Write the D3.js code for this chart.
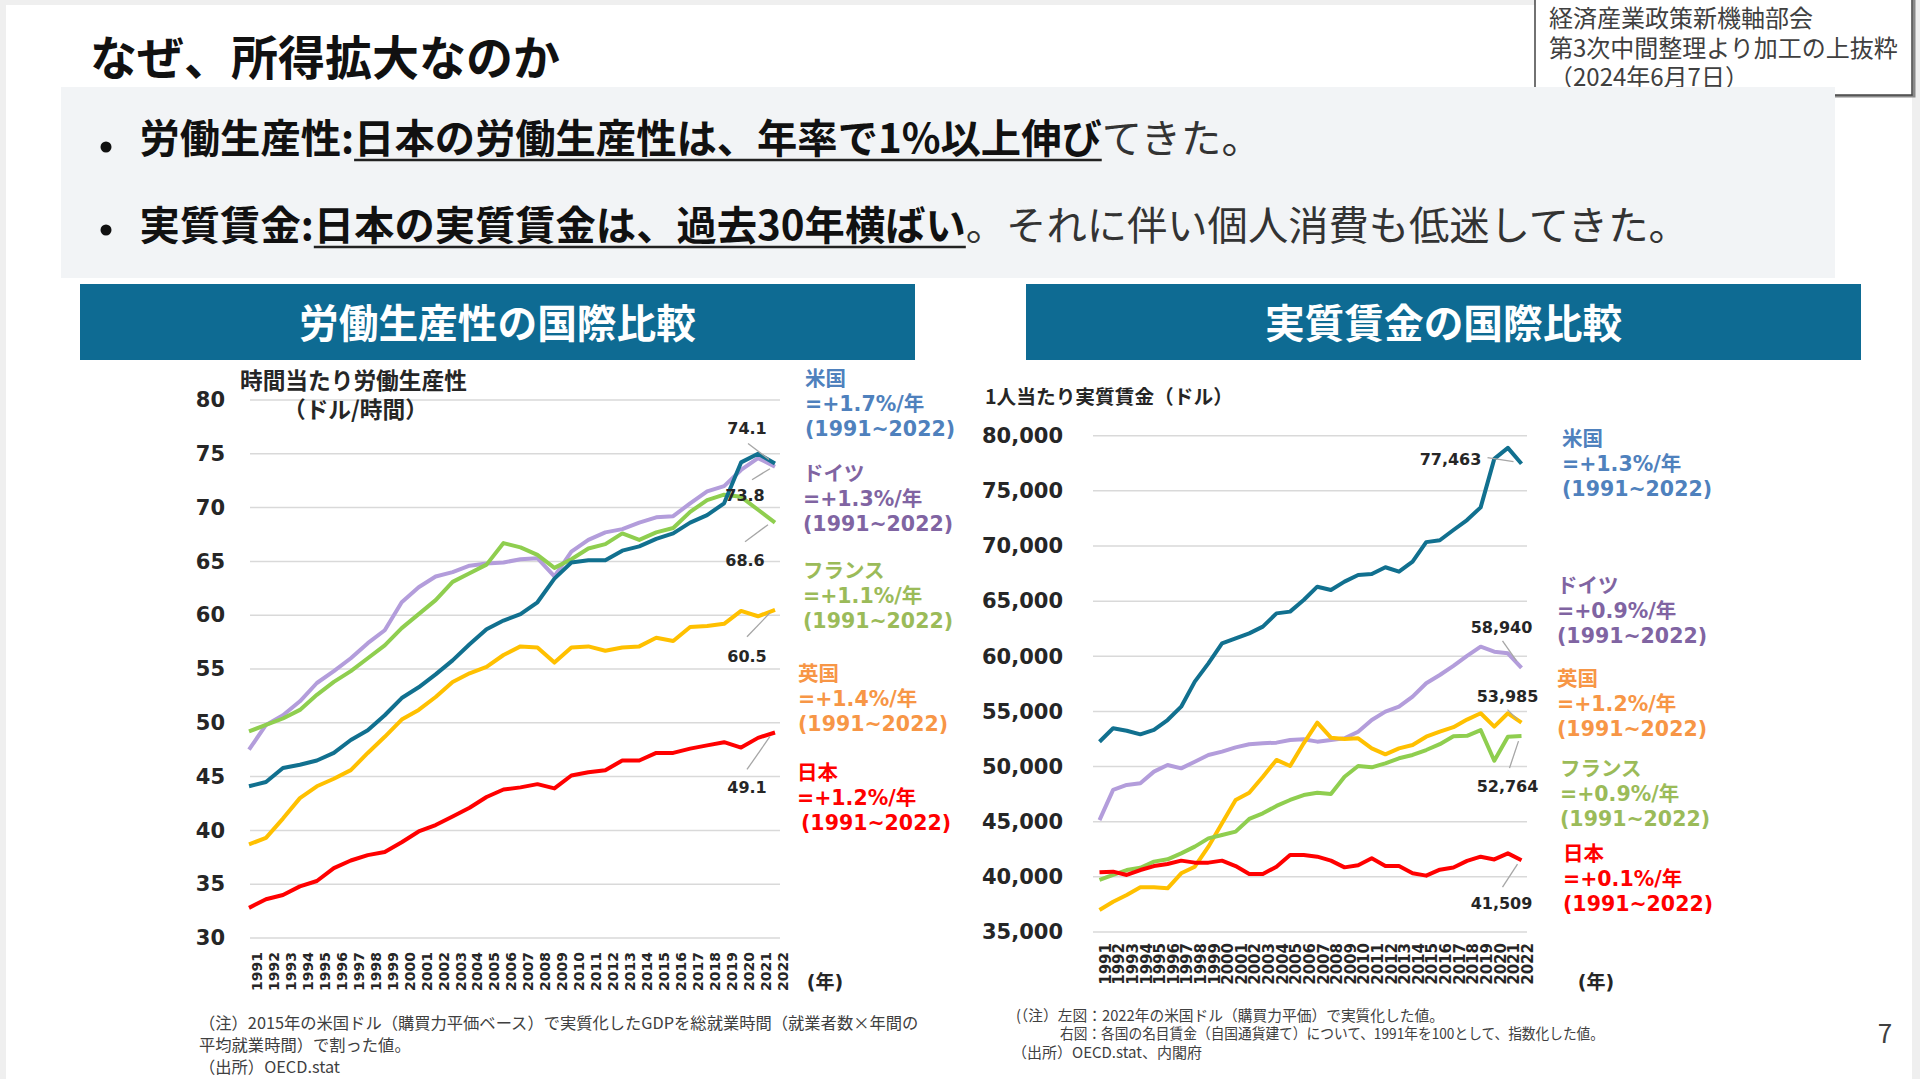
<!DOCTYPE html>
<html>
<head>
<meta charset="utf-8">
<script src="https://cdnjs.cloudflare.com/ajax/libs/d3/7.8.5/d3.min.js"></script>
<style>
  body { margin: 0; background: #efefef; overflow: hidden; }
</style>
</head>
<body>
<script>

var years = [1991, 1992, 1993, 1994, 1995, 1996, 1997, 1998, 1999, 2000, 2001, 2002, 2003, 2004, 2005, 2006,
             2007, 2008, 2009, 2010, 2011, 2012, 2013, 2014, 2015, 2016, 2017, 2018, 2019, 2020, 2021, 2022]

// 時間当たり労働生産性 (ドル/時間)
var prodUSA     = [44.1, 44.5, 45.8, 46.1, 46.5, 47.2, 48.4, 49.3, 50.7, 52.3, 53.3, 54.5, 55.8, 57.3, 58.7, 59.5,
                   60.1, 61.2, 63.4, 64.9, 65.1, 65.1, 66.0, 66.4, 67.1, 67.6, 68.6, 69.3, 70.4, 74.2, 75.0, 74.1]
var prodGermany = [47.5, 49.8, 50.7, 52.0, 53.7, 54.8, 56.0, 57.4, 58.6, 61.2, 62.6, 63.6, 64.0, 64.6, 64.8, 64.9,
                   65.2, 65.3, 63.6, 65.9, 67.0, 67.7, 68.0, 68.6, 69.1, 69.2, 70.4, 71.5, 72.0, 73.5, 74.6, 73.8]
var prodFrance  = [49.2, 49.8, 50.4, 51.2, 52.6, 53.8, 54.8, 56.0, 57.2, 58.8, 60.1, 61.4, 63.1, 63.9, 64.7, 66.7,
                   66.3, 65.6, 64.4, 65.2, 66.2, 66.6, 67.6, 67.0, 67.7, 68.1, 69.6, 70.7, 71.2, 71.0, 69.8, 68.6]
var prodUK      = [38.7, 39.3, 41.1, 43.0, 44.1, 44.8, 45.6, 47.2, 48.7, 50.3, 51.2, 52.4, 53.8, 54.6, 55.2, 56.3,
                   57.1, 57.0, 55.6, 57.0, 57.1, 56.7, 57.0, 57.1, 57.9, 57.6, 58.9, 59.0, 59.2, 60.4, 59.9, 60.5]
var prodJapan   = [32.8, 33.6, 34.0, 34.8, 35.3, 36.5, 37.2, 37.7, 38.0, 38.9, 39.9, 40.5, 41.3, 42.1, 43.1, 43.8,
                   44.0, 44.3, 43.9, 45.1, 45.4, 45.6, 46.5, 46.5, 47.2, 47.2, 47.6, 47.9, 48.2, 47.7, 48.6, 49.1]

// 1人当たり実質賃金 (ドル)
var wageUSA     = [52250, 53470, 53250, 52920, 53320, 54220, 55430, 57700, 59360, 61170, 61630, 62080, 62690, 63890, 64050, 65100,
                   66310, 66010, 66770, 67370, 67460, 68070, 67670, 68580, 70350, 70520, 71450, 72350, 73500, 77900, 78900, 77463]
var wageGermany = [45150, 47880, 48330, 48480, 49540, 50140, 49840, 50440, 51050, 51350, 51740, 52020, 52110, 52170, 52410, 52470,
                   52260, 52410, 52560, 53160, 54220, 54980, 55430, 56340, 57550, 58300, 59130, 60040, 60870, 60420, 60270, 58940]
var wageUK      = [37000, 37750, 38360, 39050, 39050, 38960, 40320, 40920, 42740, 44850, 46970, 47630, 49080, 50600, 50050, 52110,
                   53980, 52620, 52500, 52560, 51650, 51110, 51650, 51960, 52710, 53160, 53570, 54260, 54830, 53620, 54830, 53985]
var wageFrance  = [39720, 40170, 40620, 40830, 41380, 41590, 42130, 42740, 43490, 43800, 44100, 45250, 45760, 46430, 46970, 47420,
                   47630, 47510, 49080, 50050, 49930, 50290, 50750, 51050, 51500, 52030, 52740, 52790, 53310, 50530, 52710, 52764]
var wageJapan   = [40410, 40470, 40170, 40620, 40980, 41170, 41470, 41290, 41290, 41470, 40980, 40260, 40260, 40920, 41980, 41980,
                   41830, 41470, 40860, 41050, 41680, 40980, 40980, 40320, 40110, 40650, 40850, 41450, 41830, 41580, 42130, 41509]

var prodTicks = [30, 35, 40, 45, 50, 55, 60, 65, 70, 75, 80]
var wageTicks = [35000, 40000, 45000, 50000, 55000, 60000, 65000, 70000, 75000, 80000]

var prodLegend = [["米国", "=+1.7%/年", "(1991~2022)"],
                  ["ドイツ", "=+1.3%/年", "(1991~2022)"],
                  ["フランス", "=+1.1%/年", "(1991~2022)"],
                  ["英国", "=+1.4%/年", "(1991~2022)"],
                  ["日本", "=+1.2%/年", " (1991~2022)"]]
var wageLegend = [["米国", "=+1.3%/年", "(1991~2022)"],
                  ["ドイツ", "=+0.9%/年", "(1991~2022)"],
                  ["英国", "=+1.2%/年", "(1991~2022)"],
                  ["フランス", "=+0.9%/年", "(1991~2022)"],
                  ["日本", "=+0.1%/年", "(1991~2022)"]]

var JP = "'Noto Sans CJK JP', sans-serif"
var NUM = "'DejaVu Sans', 'Noto Sans CJK JP', sans-serif"
var ink = "#262626"

var lineColors = {usa: "#11708f", ger: "#b39ddb", fra: "#8fce4f", uk: "#ffc000", jpn: "#ff0000"}
var textColors = {usa: "#4f81bd", ger: "#8064a2", fra: "#9bbb59", uk: "#f79646", jpn: "#ff0000"}

var svg = d3.select("body")
            .append("svg")
            .attr("width", 1920)
            .attr("height", 1079)

// slide
svg.append("rect").attr("x", 0).attr("y", 0).attr("width", 1920).attr("height", 1079).style("fill", "#efefef")
svg.append("rect").attr("x", 6).attr("y", 5).attr("width", 1906).attr("height", 1074).style("fill", "#ffffff")

svg.append("text")
    .attr("x", 90).attr("y", 75)
    .style("font-family", JP).style("font-weight", "bold").style("font-size", "47px")
    .style("fill", "#111")
    .text("なぜ、所得拡大なのか")

// source box top right
svg.append("rect")
    .attr("x", 1537).attr("y", -3).attr("width", 377).attr("height", 99)
    .style("fill", "#fff").style("stroke", "#8a8a8a").style("stroke-width", 3)
svg.append("rect")
    .attr("x", 1535).attr("y", -3).attr("width", 377).attr("height", 98)
    .style("fill", "#fff").style("stroke", "#444").style("stroke-width", 1.5)
var srcLines = ["経済産業政策新機軸部会", "第3次中間整理より加工の上抜粋", "（2024年6月7日）"]
svg.selectAll(".src")
    .data(srcLines)
    .enter()
    .append("text")
    .attr("x", 1549)
    .attr("y", function(d, i){ return 27 + i*29.5 })
    .style("font-family", JP).style("font-size", "24px").style("fill", "#404040")
    .text(function(d){ return d })

// bullet box
svg.append("rect")
    .attr("x", 61).attr("y", 87).attr("width", 1774).attr("height", 191)
    .style("fill", "#f2f4f6")

var bullets = [
  {y: 153, dot: 147, parts: [
    {t: "労働生産性:", b: true},
    {t: "日本の労働生産性は、年率で1%以上伸び", b: true, u: true},
    {t: "てきた。", b: false}]},
  {y: 240, dot: 230, parts: [
    {t: "実質賃金:", b: true},
    {t: "日本の実質賃金は、過去30年横ばい", b: true, u: true},
    {t: "。それに伴い個人消費も低迷してきた。", b: false}]}
]

bullets.forEach(function(line){
  svg.append("circle").attr("cx", 106).attr("cy", line.dot).attr("r", 5.5).style("fill", "#111")
  var x = 139.5
  line.parts.forEach(function(p){
    var t = svg.append("text")
        .attr("x", x).attr("y", line.y)
        .style("font-family", JP)
        .style("font-weight", p.b ? "bold" : "normal")
        .style("font-size", "40.3px")
        .style("fill", p.b ? "#111" : "#333")
        .text(p.t)
    var w = t.node().getComputedTextLength()
    if (p.u) {
      svg.append("line")
          .attr("x1", x).attr("x2", x + w)
          .attr("y1", line.y + 7).attr("y2", line.y + 7)
          .style("stroke", "#222").style("stroke-width", 2.5)
    }
    x += w
  })
})

// blue headers
var headers = [{x: 80, t: "労働生産性の国際比較"}, {x: 1026, t: "実質賃金の国際比較"}]
headers.forEach(function(h){
  svg.append("rect").attr("x", h.x).attr("y", 284).attr("width", 835).attr("height", 76).style("fill", "#0e6b93")
  svg.append("text")
      .attr("x", h.x + 417.5).attr("y", 338)
      .attr("text-anchor", "middle")
      .style("font-family", JP).style("font-weight", "bold").style("font-size", "39.7px")
      .style("fill", "#fff")
      .text(h.t)
})

function drawChart(c){
  var g = svg.append("g")

  var x = d3.scaleLinear().domain([1991, 2022]).range(c.xRange)
  var y = d3.scaleLinear().domain(c.yDomain).range(c.yRange)

  g.selectAll(".grid")
      .data(c.ticks)
      .enter()
      .append("line")
      .attr("x1", c.gridX[0]).attr("x2", c.gridX[1])
      .attr("y1", function(d){ return y(d) })
      .attr("y2", function(d){ return y(d) })
      .style("stroke", "#d9d9d9").style("stroke-width", 1.5)

  var yAxis = d3.axisLeft(y).tickValues(c.ticks).tickSize(0).tickPadding(0).tickFormat(c.fmt)
  var ya = g.append("g").attr("transform", "translate(" + c.yLabelX + ",0)").call(yAxis)
  ya.select(".domain").remove()
  ya.selectAll("text")
      .style("font-family", NUM).style("font-weight", "bold").style("font-size", "21px")
      .style("fill", ink)

  g.selectAll(".xl")
      .data(years)
      .enter()
      .append("text")
      .attr("transform", function(d){ return "translate(" + (x(d) + c.xLabelShift) + "," + c.xLabelY + ") rotate(-90)" })
      .attr("text-anchor", "end")
      .attr("dy", "0.35em")
      .style("font-family", NUM).style("font-weight", "bold").style("font-size", c.xLabelSize)
      .style("fill", ink)
      .text(function(d){ return d })

  g.append("text")
      .attr("x", c.unitX).attr("y", 989)
      .attr("text-anchor", "middle")
      .style("font-family", NUM).style("font-weight", "bold").style("font-size", "19px")
      .style("fill", ink)
      .text("(年)")

  c.title.forEach(function(t){
    g.append("text")
        .attr("x", t.x).attr("y", t.y)
        .style("font-family", JP).style("font-weight", "bold").style("font-size", t.size)
        .style("fill", ink)
        .text(t.t)
  })

  var line = d3.line()
      .x(function(d, i){ return x(years[i]) })
      .y(function(d){ return y(d) })

  g.selectAll(".series")
      .data(c.series)
      .enter()
      .append("path")
      .attr("d", function(s){ return line(s.values) })
      .style("fill", "none")
      .style("stroke", function(s){ return lineColors[s.key] })
      .style("stroke-width", 4)
      .style("stroke-linejoin", "round")

  // end value labels with leader lines
  c.series.forEach(function(s){
    var v = s.values[s.values.length - 1]
    var px = x(2022), py = y(v)
    var L = c.callouts[s.key]
    g.append("line")
        .attr("x1", px + L.l[0]).attr("y1", py + L.l[1])
        .attr("x2", px + L.l[2]).attr("y2", py + L.l[3])
        .style("stroke", "#a6a6a6").style("stroke-width", 1.3)
    g.append("text")
        .attr("x", px + L.dx).attr("y", py + L.dy)
        .attr("text-anchor", "middle")
        .style("font-family", NUM).style("font-weight", "bold").style("font-size", "16px")
        .style("fill", ink)
        .text(c.valFmt(v))
  })

  c.legend.forEach(function(lg){
    lg.lines.forEach(function(t, i){
      g.append("text")
          .attr("x", lg.x + (i == 2 ? lg.x3 || 0 : 0))
          .attr("y", lg.y + i*25)
          .style("font-family", NUM).style("font-weight", "bold").style("font-size", "20.5px")
          .style("fill", textColors[lg.key])
          .text(t)
    })
  })
}

drawChart({
  xRange: [249, 775],
  yDomain: [30, 80],
  yRange: [938, 400],
  ticks: prodTicks,
  gridX: [250, 780],
  yLabelX: 225,
  fmt: d3.format("d"),
  xLabelShift: 8,
  xLabelY: 952,
  xLabelSize: "14px",
  unitX: 825,
  title: [{t: "時間当たり労働生産性", x: 240, y: 389, size: "22.7px"},
          {t: "（ドル/時間）", x: 283, y: 418, size: "22.7px"}],
  series: [{key: "ger", values: prodGermany},
           {key: "fra", values: prodFrance},
           {key: "uk", values: prodUK},
           {key: "jpn", values: prodJapan},
           {key: "usa", values: prodUSA}],
  valFmt: d3.format(".1f"),
  callouts: {
    usa: {dx: -28, dy: -29, l: [-27, -20, -6, -4]},
    ger: {dx: -30, dy: 34, l: [-23, 13, -5, 2]},
    fra: {dx: -30, dy: 43, l: [-30, 19, -7, 2]},
    uk:  {dx: -28, dy: 52, l: [-28, 27, -5, 3]},
    jpn: {dx: -28, dy: 61, l: [-28, 37, -5, 4]}
  },
  legend: [{key: "usa", x: 805, y: 386, lines: prodLegend[0]},
           {key: "ger", x: 803, y: 481, lines: prodLegend[1]},
           {key: "fra", x: 803, y: 578, lines: prodLegend[2]},
           {key: "uk",  x: 798, y: 681, lines: prodLegend[3]},
           {key: "jpn", x: 797, y: 780, x3: 4, lines: prodLegend[4]}]
})

drawChart({
  xRange: [1099.5, 1521.5],
  yDomain: [35000, 80000],
  yRange: [932, 435.7],
  ticks: wageTicks,
  gridX: [1093, 1527],
  yLabelX: 1063,
  fmt: d3.format(","),
  xLabelShift: 6,
  xLabelY: 943,
  xLabelSize: "15px",
  unitX: 1596,
  title: [{t: "1人当たり実質賃金（ドル）", x: 985, y: 404, size: "19.7px"}],
  series: [{key: "ger", values: wageGermany},
           {key: "uk", values: wageUK},
           {key: "fra", values: wageFrance},
           {key: "jpn", values: wageJapan},
           {key: "usa", values: wageUSA}],
  valFmt: d3.format(","),
  callouts: {
    usa: {dx: -71, dy: 1, l: [-34, -6, -8, -2]},
    ger: {dx: -20, dy: -35, l: [-19, -27, -5, -7]},
    uk:  {dx: -14, dy: -21, l: [-14, -13, -4, -3]},
    fra: {dx: -14, dy: 56, l: [-12, 32, -3, 5]},
    jpn: {dx: -20, dy: 49, l: [-19, 27, -4, 4]}
  },
  legend: [{key: "usa", x: 1562, y: 446, lines: wageLegend[0]},
           {key: "ger", x: 1557, y: 593, lines: wageLegend[1]},
           {key: "uk",  x: 1557, y: 686, lines: wageLegend[2]},
           {key: "fra", x: 1560, y: 776, lines: wageLegend[3]},
           {key: "jpn", x: 1563, y: 861, lines: wageLegend[4]}]
})

// notes
var notesLeft = ["（注）2015年の米国ドル（購買力平価ベース）で実質化したGDPを総就業時間（就業者数×年間の",
                 "平均就業時間）で割った値。",
                 "（出所）OECD.stat"]
var notesRight = [{t: "(（注）左図：2022年の米国ドル（購買力平価）で実質化した値。", x: 1016, w: 428},
                  {t: "右図：各国の名目賃金（自国通貨建て）について、1991年を100として、指数化した値。", x: 1060, w: 544},
                  {t: "（出所）OECD.stat、内閣府", x: 1012, w: null}]

svg.selectAll(".nl")
    .data(notesLeft)
    .enter()
    .append("text")
    .attr("x", 199)
    .attr("y", function(d, i){ return 1029 + i*22 })
    .style("font-family", JP).style("font-size", "16.3px").style("fill", "#404040")
    .text(function(d){ return d })

svg.selectAll(".nr")
    .data(notesRight)
    .enter()
    .append("text")
    .attr("x", function(d){ return d.x })
    .attr("y", function(d, i){ return 1021 + i*18.3 })
    .attr("textLength", function(d){ return d.w })
    .attr("lengthAdjust", "spacingAndGlyphs")
    .style("font-family", JP).style("font-size", "15px").style("fill", "#404040")
    .text(function(d){ return d.t })

svg.append("text")
    .attr("x", 1885).attr("y", 1043)
    .attr("text-anchor", "middle")
    .style("font-family", JP).style("font-size", "26px").style("fill", "#404040")
    .text("7")

</script>
</body>
</html>
